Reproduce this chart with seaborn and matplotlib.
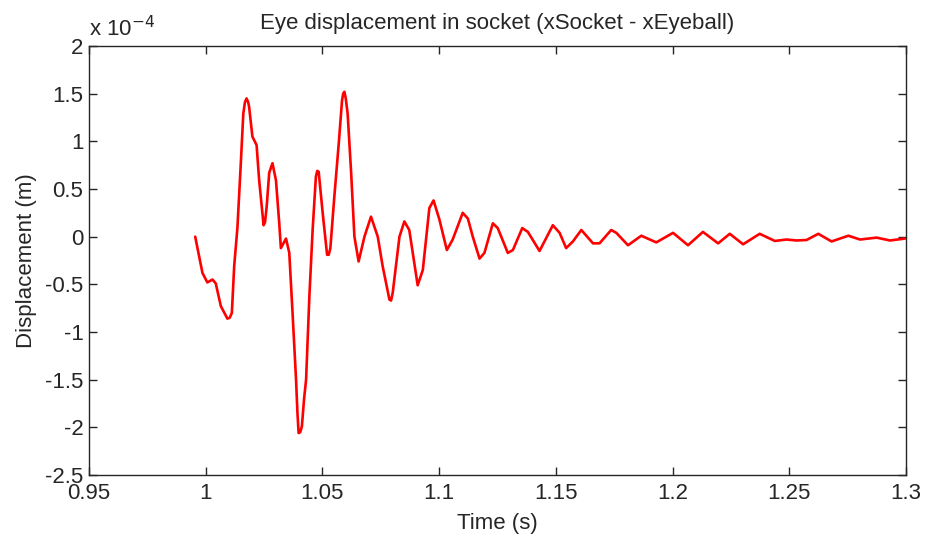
import matplotlib
matplotlib.use("Agg")
import matplotlib.pyplot as plt
import seaborn as sns
import pandas as pd
from matplotlib.ticker import FuncFormatter

# time (s)
time_s = [0.9955, 0.9986, 1.0007, 1.0029, 1.0043, 1.0065, 1.0093, 1.0103, 1.0112, 1.0122, 1.0136,
          1.0151, 1.0161, 1.0168, 1.0175, 1.0182, 1.0186, 1.0200, 1.0218, 1.0229, 1.0248, 1.0254,
          1.0261, 1.0272, 1.0286, 1.0301, 1.0315, 1.0322, 1.0344, 1.0358, 1.0372, 1.0387,
          1.0393, 1.0398, 1.0405, 1.0412, 1.0421, 1.0430, 1.0444, 1.0458, 1.0472, 1.0478,
          1.0484, 1.0501, 1.0520, 1.0527, 1.0534, 1.0551, 1.0570, 1.0584, 1.0589, 1.0594,
          1.0600, 1.0608, 1.0623, 1.0637, 1.0655, 1.0680, 1.0708, 1.0737, 1.0758, 1.0787,
          1.0794, 1.0801, 1.0830, 1.0851, 1.0872, 1.0908, 1.0930, 1.0958, 1.0976, 1.1001,
          1.1033, 1.1058, 1.1101, 1.1123, 1.1144, 1.1173, 1.1194, 1.1230, 1.1251, 1.1294,
          1.1316, 1.1356, 1.1380, 1.1430, 1.1487, 1.1516, 1.1544, 1.1573, 1.1609, 1.1659,
          1.1687, 1.1737, 1.1759, 1.1809, 1.1866, 1.1930, 1.2002, 1.2066, 1.2130, 1.2195,
          1.2245, 1.2302, 1.2373, 1.2438, 1.2488, 1.2531, 1.2574, 1.2624, 1.2681, 1.2753,
          1.2803, 1.2874, 1.2931, 1.2995]
# displacement in units of 1e-4 m
disp_e4 = [0.0, -0.38, -0.48, -0.45, -0.49, -0.73, -0.86, -0.85, -0.80, -0.31, 0.10,
           0.80, 1.29, 1.41, 1.45, 1.41, 1.36, 1.05, 0.96, 0.59, 0.12, 0.15,
           0.31, 0.67, 0.77, 0.59, 0.14, -0.12, -0.02, -0.17, -0.80, -1.50,
           -1.85, -2.06, -2.05, -1.99, -1.71, -1.50, -0.63, 0.07, 0.63, 0.69,
           0.68, 0.25, -0.19, -0.19, -0.12, 0.42, 0.98, 1.43, 1.50, 1.52,
           1.45, 1.29, 0.67, 0.0, -0.26, 0.0, 0.21, 0.0, -0.31, -0.66,
           -0.67, -0.59, 0.0, 0.16, 0.07, -0.51, -0.35, 0.30, 0.38, 0.18,
           -0.14, -0.03, 0.25, 0.19, 0.0, -0.23, -0.17, 0.14, 0.09, -0.17,
           -0.14, 0.09, 0.05, -0.15, 0.12, 0.04, -0.12, -0.05, 0.07, -0.07,
           -0.07, 0.07, 0.04, -0.09, 0.01, -0.06, 0.04, -0.09, 0.05, -0.07,
           0.03, -0.08, 0.03, -0.045, -0.03, -0.04, -0.035, 0.03, -0.05, 0.01,
           -0.03, -0.01, -0.04, -0.02]

x_ticks = [0.95, 1.0, 1.05, 1.1, 1.15, 1.2, 1.25, 1.3]
y_ticks_e4 = [-2.5, -2, -1.5, -1, -0.5, 0, 0.5, 1, 1.5, 2]

title = "Eye displacement in socket (xSocket - xEyeball)"
xlabel = "Time (s)"
ylabel = "Displacement (m)"

sns.set_theme(style="white")
plt.rcParams['font.family'] = ['Liberation Sans', 'DejaVu Sans']

df = pd.DataFrame({"t": time_s, "d": [v * 1e-4 for v in disp_e4]})

fig = plt.figure(figsize=(9.25, 5.38), dpi=100)
ax = fig.add_axes([0.0962, 0.1171, 0.8833, 0.7974])
sns.lineplot(data=df, x="t", y="d", ax=ax, color="#ff0000", linewidth=1.9,
             sort=False, estimator=None)

ax.set_xlim(0.95, 1.3)
ax.set_ylim(-2.5e-4, 2e-4)
ax.set_xticks(x_ticks)
ax.set_yticks([v * 1e-4 for v in y_ticks_e4])
ax.xaxis.set_major_formatter(FuncFormatter(lambda v, p: f"{v:g}"))
ax.yaxis.set_major_formatter(FuncFormatter(lambda v, p: f"{round(v / 1e-4, 2):g}"))

tc = "#262626"
for s in ax.spines.values():
    s.set_color(tc)
    s.set_linewidth(1.0)
    s.set_visible(True)
ax.tick_params(direction="in", length=6, width=1.0, colors=tc, labelsize=16,
               top=True, right=True, bottom=True, left=True, pad=4)
ax.tick_params(axis="x", pad=6)

ax.set_title(title, fontsize=16, color=tc, pad=12)
ax.set_xlabel(xlabel, fontsize=16, color=tc, labelpad=6)
ax.set_ylabel(ylabel, fontsize=16, color=tc, labelpad=6)
ax.text(0.0, 1.012, "x 10$^{-4}$", transform=ax.transAxes, fontsize=16,
        color=tc, ha="left", va="bottom")
ax.grid(False)

fig.savefig("out.png", dpi=100, facecolor="white")
